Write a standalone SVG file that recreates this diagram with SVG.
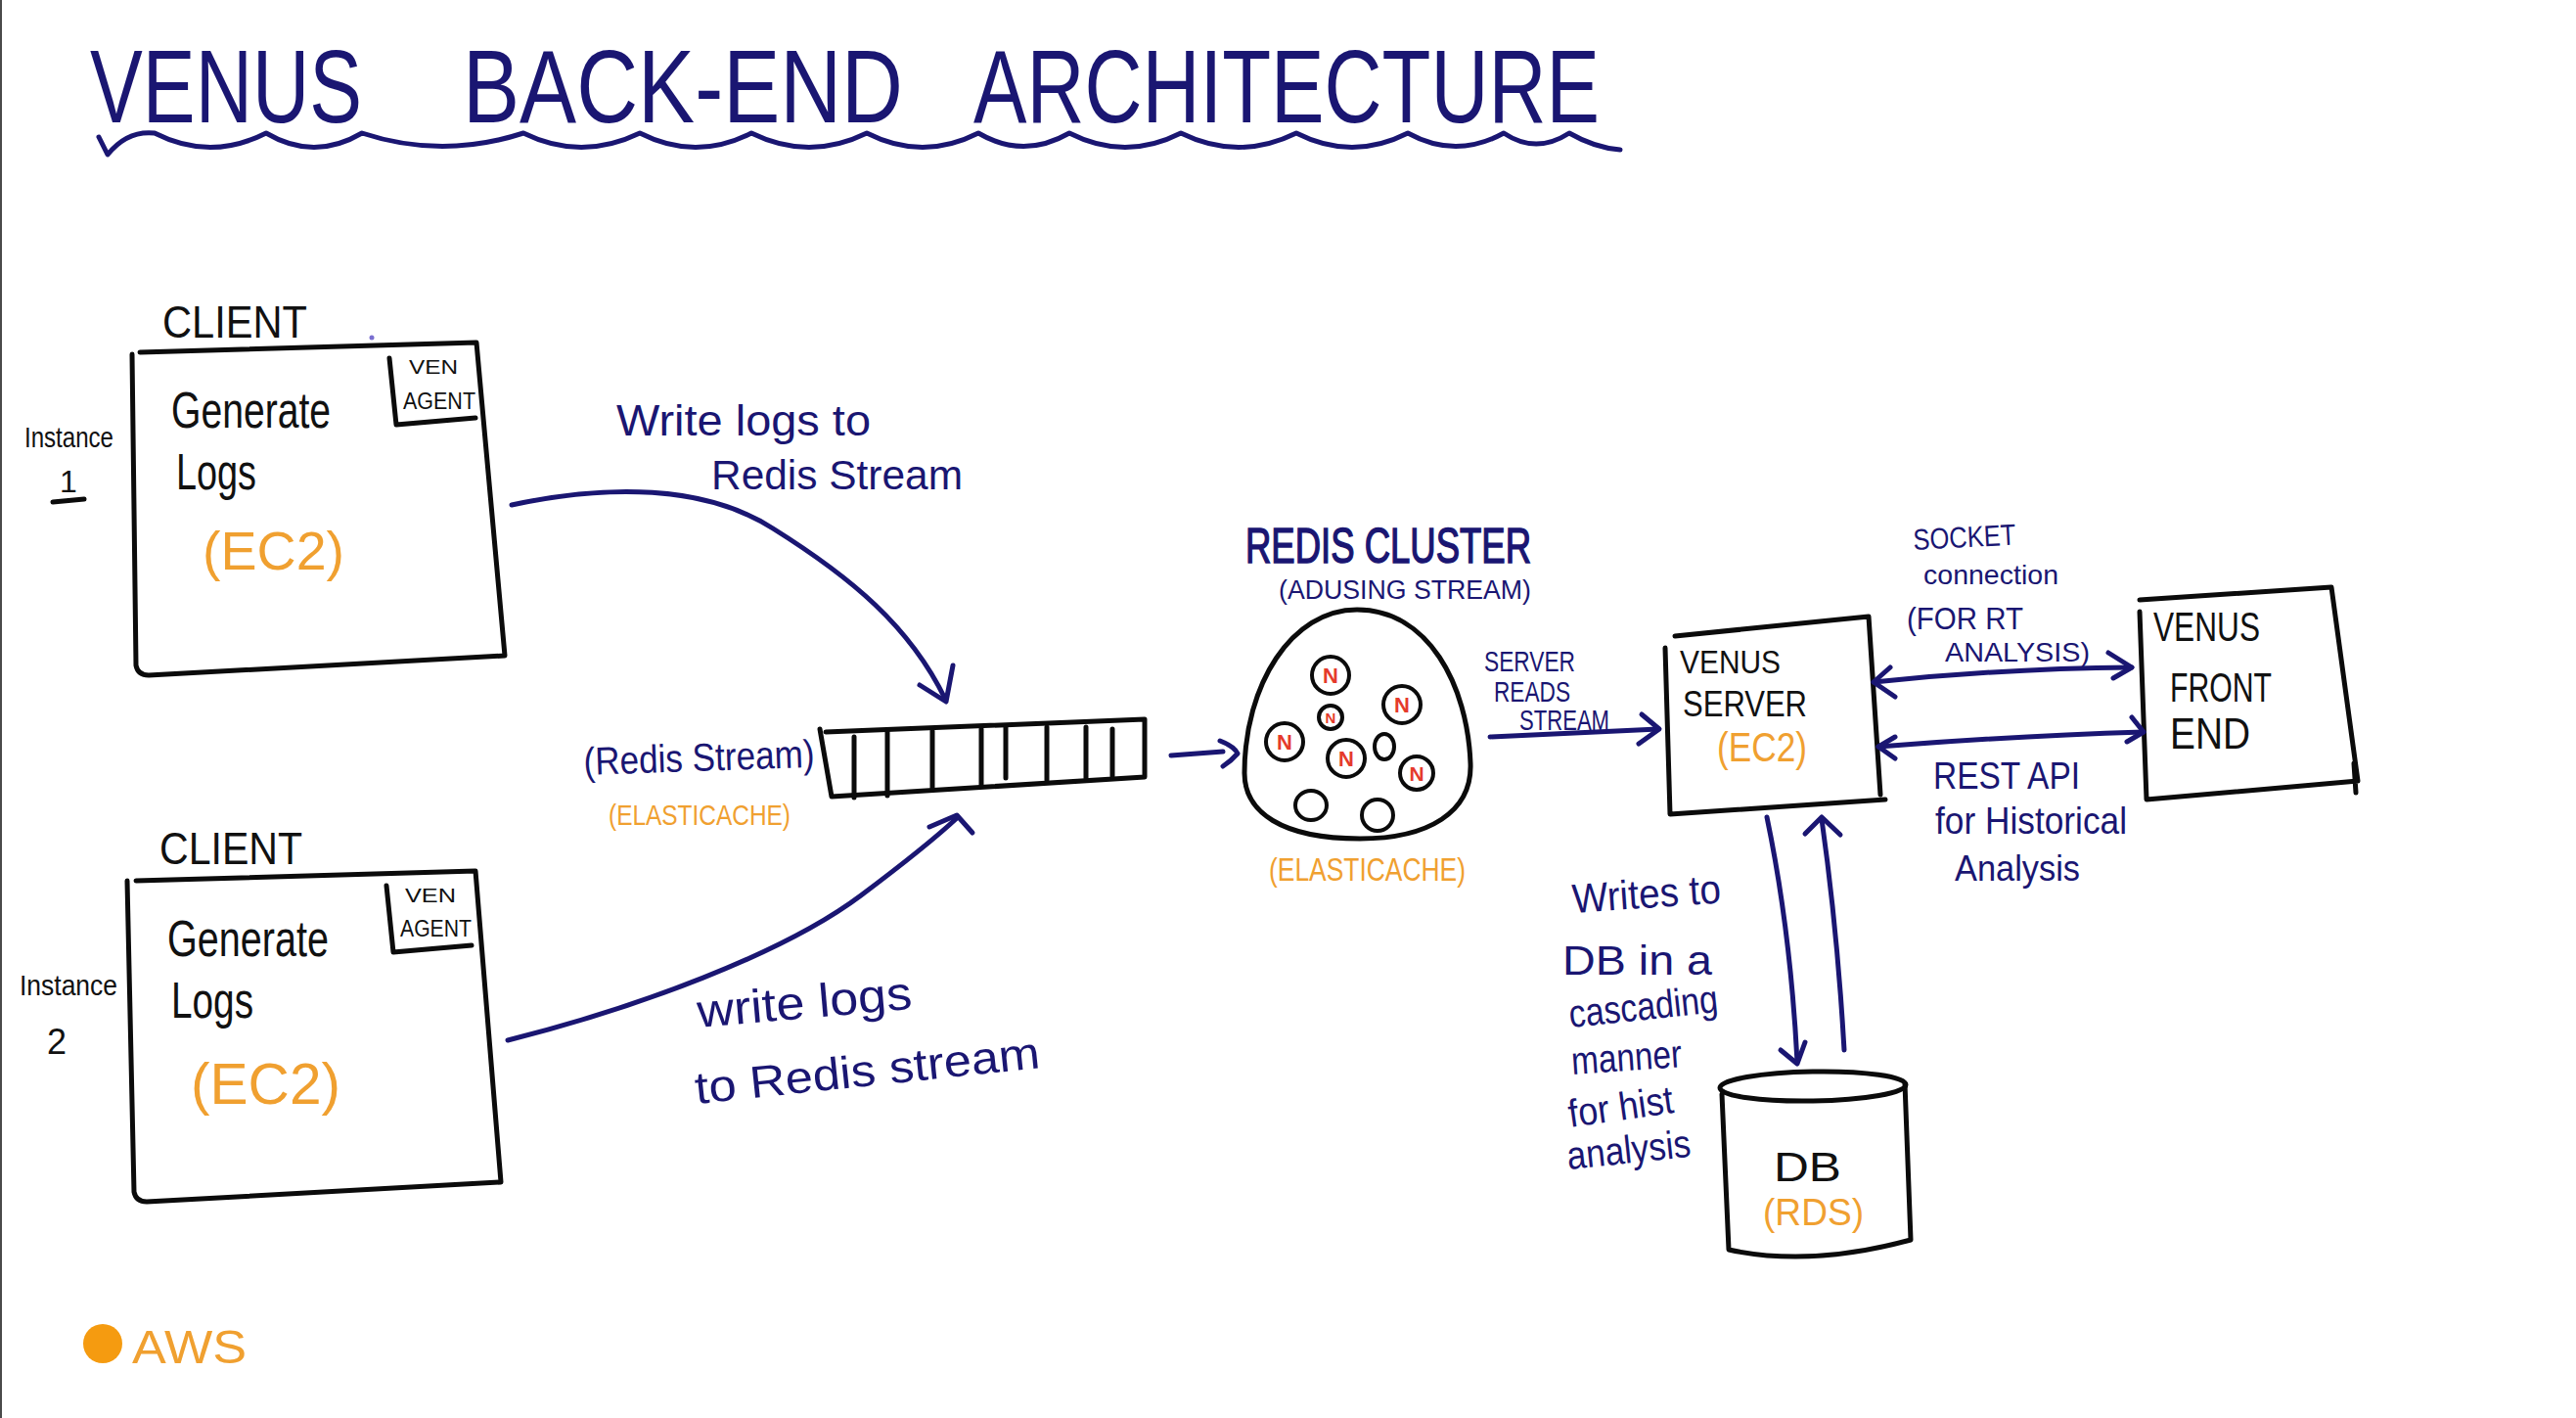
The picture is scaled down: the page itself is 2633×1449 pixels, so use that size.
<svg xmlns="http://www.w3.org/2000/svg" width="2633" height="1449" viewBox="0 0 2633 1449">
<style>
.ink{fill:none;stroke:#0b0b0b;stroke-width:5;stroke-linecap:round;stroke-linejoin:round}
.node{fill:none;stroke:#0b0b0b;stroke-width:4;stroke-linecap:round}
.blue{fill:none;stroke:#1a1672;stroke-width:5;stroke-linecap:round;stroke-linejoin:round}
text{font-family:"Liberation Sans",Arial,sans-serif}
.k{fill:#111}
.n{fill:#1a1672}
.o{fill:#f0a030}
.r{fill:#e53a2c;font-weight:bold}
</style>
<rect x="0" y="0" width="2633" height="1449" fill="#ffffff"/>
<rect x="0" y="0" width="2" height="1449" fill="#4a4a4a"/>

<g id="title">
<text class="n" x="92" y="125" font-size="106" textLength="278" lengthAdjust="spacingAndGlyphs">VENUS</text>
<text class="n" x="473" y="125" font-size="106" textLength="450" lengthAdjust="spacingAndGlyphs">BACK-END</text>
<text class="n" x="995" y="125" font-size="106" textLength="640" lengthAdjust="spacingAndGlyphs">ARCHITECTURE</text>
<path class="blue" stroke-width="7" d="M101,140 L110,158 Q130,133 158,136 Q215,165 272,136 Q321,165 370,136 Q452,163 535,136 Q594,165 654,136 Q711,165 768,136 Q827,165 886,136 Q943,165 1000,136 Q1046,163 1093,136 Q1150,165 1207,136 Q1266,165 1325,136 Q1382,165 1439,136 Q1488,163 1537,136 Q1570,158 1604,136 Q1630,151 1656,153"/>
</g>

<g id="client1">
<text class="k" x="166" y="345" font-size="46" textLength="148" lengthAdjust="spacingAndGlyphs">CLIENT</text>
<path class="ink" d="M135,362 L139,680 Q141,690 152,690 L516,670 L487,350 L143,360"/>
<path class="ink" d="M398,366 L405,434 L486,427"/>
<text class="k" x="418" y="382" font-size="20" textLength="50" lengthAdjust="spacingAndGlyphs">VEN</text>
<text class="k" x="412" y="418" font-size="23" textLength="74" lengthAdjust="spacingAndGlyphs">AGENT</text>
<text class="k" x="175" y="437" font-size="52" textLength="163" lengthAdjust="spacingAndGlyphs">Generate</text>
<text class="k" x="180" y="500" font-size="52" textLength="82" lengthAdjust="spacingAndGlyphs">Logs</text>
<text class="o" x="207" y="582" font-size="56" textLength="145" lengthAdjust="spacingAndGlyphs">(EC2)</text>
<text class="k" x="25" y="457" font-size="30" textLength="91" lengthAdjust="spacingAndGlyphs">Instance</text>
<text class="k" x="61" y="503" font-size="32">1</text>
<path class="ink" stroke-width="3" d="M54,513 L86,510"/>
<circle cx="380" cy="345" r="2.5" fill="#7a6fd0"/>
</g>

<g id="client2">
<text class="k" x="163" y="883" font-size="46" textLength="146" lengthAdjust="spacingAndGlyphs">CLIENT</text>
<path class="ink" d="M130,900 L137,1218 Q139,1228 150,1228 L512,1208 L486,890 L139,900"/>
<path class="ink" d="M395,905 L402,973 L482,966"/>
<text class="k" x="414" y="922" font-size="20" textLength="52" lengthAdjust="spacingAndGlyphs">VEN</text>
<text class="k" x="409" y="957" font-size="23" textLength="73" lengthAdjust="spacingAndGlyphs">AGENT</text>
<text class="k" x="171" y="977" font-size="52" textLength="165" lengthAdjust="spacingAndGlyphs">Generate</text>
<text class="k" x="175" y="1040" font-size="52" textLength="84" lengthAdjust="spacingAndGlyphs">Logs</text>
<text class="o" x="195" y="1128" font-size="60" textLength="153" lengthAdjust="spacingAndGlyphs">(EC2)</text>
<text class="k" x="20" y="1017" font-size="30" textLength="100" lengthAdjust="spacingAndGlyphs">Instance</text>
<text class="k" x="48" y="1077" font-size="36">2</text>
</g>

<g id="redis-stream">
<path class="ink" d="M838,745 L850,814 L1170,794 L1170,735 L844,748"/>
<path class="ink" d="M873,753 L873,815 M907,748 L907,813 M953,747 L953,805 M1003,745 L1003,802 M1028,743 L1028,795 M1070,743 L1070,797 M1110,743 L1110,795 M1137,745 L1137,793"/>
<text class="n" x="597" y="792" font-size="40" textLength="236" lengthAdjust="spacingAndGlyphs" transform="rotate(-2 597 792)">(Redis Stream)</text>
<text class="o" x="622" y="843" font-size="30" textLength="186" lengthAdjust="spacingAndGlyphs">(ELASTICACHE)</text>
</g>

<g id="redis-cluster">
<text class="n" x="1273" y="575" font-size="50" textLength="292" lengthAdjust="spacingAndGlyphs" stroke="#1a1672" stroke-width="1.5">REDIS CLUSTER</text>
<text class="n" x="1307" y="612" font-size="27" textLength="258" lengthAdjust="spacingAndGlyphs">(ADUSING STREAM)</text>
<path class="ink" stroke-width="6" d="M1387,623 C1460,623 1500,700 1503,780 C1505,830 1460,857 1390,857 C1310,857 1272,830 1272,790 C1272,700 1320,623 1387,623 Z"/>
<circle class="node" cx="1360" cy="690" r="19"/>
<circle class="node" cx="1433" cy="720" r="19"/>
<circle class="node" cx="1360" cy="733" r="12"/>
<circle class="node" cx="1313" cy="758" r="19"/>
<circle class="node" cx="1376" cy="775" r="19"/>
<ellipse class="node" cx="1415" cy="763" rx="10" ry="13"/>
<circle class="node" cx="1448" cy="790" r="17"/>
<ellipse class="node" cx="1340" cy="823" rx="16" ry="15"/>
<circle class="node" cx="1408" cy="833" r="16"/>
<text class="r" x="1360" y="698" font-size="22" text-anchor="middle">N</text>
<text class="r" x="1433" y="728" font-size="22" text-anchor="middle">N</text>
<text class="r" x="1360" y="739" font-size="15" text-anchor="middle">N</text>
<text class="r" x="1313" y="766" font-size="22" text-anchor="middle">N</text>
<text class="r" x="1376" y="783" font-size="22" text-anchor="middle">N</text>
<text class="r" x="1448" y="798" font-size="21" text-anchor="middle">N</text>
<text class="o" x="1297" y="900" font-size="34" textLength="201" lengthAdjust="spacingAndGlyphs">(ELASTICACHE)</text>
</g>

<g id="venus-server">
<path class="ink" d="M1702,662 L1707,832 L1927,817 M1922,812 L1910,630 L1712,650"/>
<text class="k" x="1717" y="688" font-size="34" textLength="103" lengthAdjust="spacingAndGlyphs">VENUS</text>
<text class="k" x="1720" y="732" font-size="36" textLength="127" lengthAdjust="spacingAndGlyphs">SERVER</text>
<text class="o" x="1755" y="778" font-size="42" textLength="92" lengthAdjust="spacingAndGlyphs">(EC2)</text>
</g>

<g id="venus-frontend">
<path class="ink" d="M2187,625 L2194,817 L2410,798 L2383,600 L2187,613 M2406,780 L2408,810"/>
<text class="k" x="2201" y="655" font-size="42" textLength="109" lengthAdjust="spacingAndGlyphs">VENUS</text>
<text class="k" x="2218" y="717" font-size="42" textLength="104" lengthAdjust="spacingAndGlyphs">FRONT</text>
<text class="k" x="2218" y="765" font-size="44" textLength="82" lengthAdjust="spacingAndGlyphs">END</text>
</g>

<g id="db">
<ellipse class="ink" cx="1853" cy="1110" rx="95" ry="15" transform="rotate(-1 1853 1110)"/>
<path class="ink" d="M1760,1118 L1767,1277 Q1850,1295 1953,1267 L1947,1107"/>
<text class="k" x="1813" y="1207" font-size="42" textLength="69" lengthAdjust="spacingAndGlyphs">DB</text>
<text class="o" x="1802" y="1252" font-size="38" textLength="103" lengthAdjust="spacingAndGlyphs">(RDS)</text>
</g>

<g id="aws-legend">
<circle cx="105" cy="1373" r="20" fill="#f59b10"/>
<text class="o" x="135" y="1393" font-size="48" textLength="117" lengthAdjust="spacingAndGlyphs">AWS</text>
</g>

<g id="connectors">
<path class="blue" d="M523,516 C620,495 720,495 790,540 C870,590 930,640 966,714"/>
<path class="blue" d="M940,700 L967,717 L974,680"/>
<path class="blue" d="M519,1063 C650,1030 800,975 880,915 C920,885 950,862 978,836"/>
<path class="blue" d="M950,845 L978,833 L994,851"/>
<path class="blue" d="M1197,772 L1250,768"/>
<path class="blue" d="M1247,757 Q1262,763 1265,770 Q1258,778 1250,783"/>
<path class="blue" d="M1523,753 L1695,745"/>
<path class="blue" d="M1678,730 L1696,745 L1675,760"/>
<path class="blue" d="M1915,697 Q2050,683 2179,682"/>
<path class="blue" d="M1932,682 L1915,697 L1937,712 M2155,667 L2179,682 L2160,693"/>
<path class="blue" d="M1920,763 Q2060,752 2191,748"/>
<path class="blue" d="M1937,753 L1920,763 L1937,775 M2179,733 L2191,748 L2174,758"/>
<path class="blue" d="M1806,835 Q1830,950 1837,1085"/>
<path class="blue" d="M1820,1073 L1837,1087 L1845,1065"/>
<path class="blue" d="M1885,1073 Q1878,950 1862,837"/>
<path class="blue" d="M1845,852 L1862,835 L1881,853"/>
</g>

<g id="connector-labels">
<text class="n" x="630" y="445" font-size="44" textLength="260" lengthAdjust="spacingAndGlyphs">Write logs to</text>
<text class="n" x="727" y="500" font-size="42" textLength="257" lengthAdjust="spacingAndGlyphs">Redis Stream</text>
<text class="n" x="714" y="1050" font-size="48" textLength="220" lengthAdjust="spacingAndGlyphs" transform="rotate(-5 714 1050)">write logs</text>
<text class="n" x="712" y="1128" font-size="46" textLength="354" lengthAdjust="spacingAndGlyphs" transform="rotate(-6 712 1128)">to Redis stream</text>
<text class="n" x="1517" y="686" font-size="30" textLength="93" lengthAdjust="spacingAndGlyphs">SERVER</text>
<text class="n" x="1527" y="717" font-size="30" textLength="78" lengthAdjust="spacingAndGlyphs">READS</text>
<text class="n" x="1553" y="746" font-size="30" textLength="92" lengthAdjust="spacingAndGlyphs">STREAM</text>
<text class="n" x="1956" y="562" font-size="30" textLength="105" lengthAdjust="spacingAndGlyphs" transform="rotate(-3 1956 562)">SOCKET</text>
<text class="n" x="1966" y="597" font-size="28" textLength="138" lengthAdjust="spacingAndGlyphs">connection</text>
<text class="n" x="1949" y="643" font-size="32" textLength="119" lengthAdjust="spacingAndGlyphs">(FOR RT</text>
<text class="n" x="1988" y="676" font-size="28" textLength="148" lengthAdjust="spacingAndGlyphs">ANALYSIS)</text>
<text class="n" x="1976" y="806" font-size="38" textLength="150" lengthAdjust="spacingAndGlyphs">REST API</text>
<text class="n" x="1978" y="852" font-size="38" textLength="196" lengthAdjust="spacingAndGlyphs">for Historical</text>
<text class="n" x="1998" y="900" font-size="36" textLength="128" lengthAdjust="spacingAndGlyphs">Analysis</text>
<text class="n" x="1608" y="933" font-size="42" textLength="152" lengthAdjust="spacingAndGlyphs" transform="rotate(-4 1608 933)">Writes to</text>
<text class="n" x="1597" y="996" font-size="42" textLength="153" lengthAdjust="spacingAndGlyphs">DB in a</text>
<text class="n" x="1605" y="1050" font-size="40" textLength="153" lengthAdjust="spacingAndGlyphs" transform="rotate(-6 1605 1050)">cascading</text>
<text class="n" x="1607" y="1098" font-size="40" textLength="113" lengthAdjust="spacingAndGlyphs" transform="rotate(-4 1607 1098)">manner</text>
<text class="n" x="1605" y="1152" font-size="40" textLength="108" lengthAdjust="spacingAndGlyphs" transform="rotate(-8 1605 1152)">for hist</text>
<text class="n" x="1603" y="1195" font-size="40" textLength="127" lengthAdjust="spacingAndGlyphs" transform="rotate(-6 1603 1195)">analysis</text>
</g>
</svg>
